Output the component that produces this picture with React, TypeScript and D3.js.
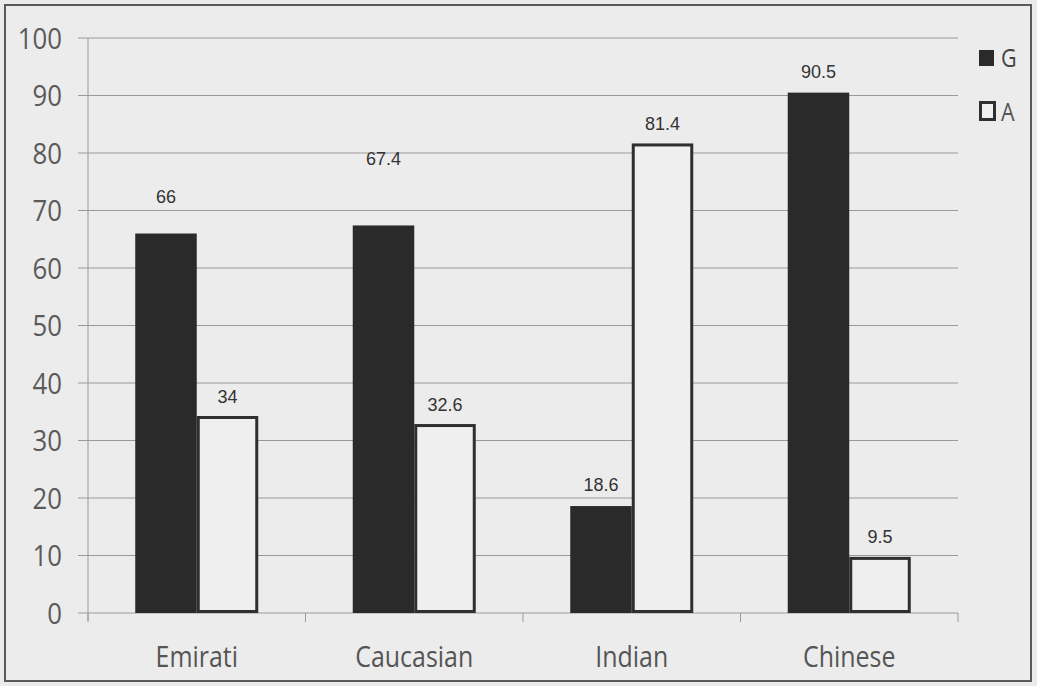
import React from "react";
import * as d3 from "d3";

const categories = ["Emirati", "Caucasian", "Indian", "Chinese"];
const seriesNames = ["G", "A"];
const gValues = [66, 67.4, 18.6, 90.5];
const aValues = [34, 32.6, 81.4, 9.5];
const yTicks = [0, 10, 20, 30, 40, 50, 60, 70, 80, 90, 100];
// extra vertical lift (px) of each data label, [G, A] per category, as drawn in the original
const gLabelLift = [16, 45, 0, 0];
const aLabelLift = [0, 0, 0, 0];

const W = 1037;
const H = 686;
const left = 88;
const right = 958;
const top = 38;
const bottom = 613;

const tickFont = "'Open Sans', 'Noto Sans', sans-serif";
const labelFont = "'Liberation Sans', Arial, sans-serif";

function NarrowText(props: {
  x: number;
  y: number;
  size: number;
  anchor?: "start" | "middle" | "end";
  fill?: string;
  dy?: string;
  children: React.ReactNode;
}) {
  return (
    <text
      transform={`translate(${props.x},${props.y}) scale(0.86,1)`}
      textAnchor={props.anchor || "start"}
      dy={props.dy}
      fontFamily={tickFont}
      fontSize={props.size}
      fill={props.fill || "#555"}
    >
      {props.children}
    </text>
  );
}

export default function App() {
  const y = d3.scaleLinear().domain([0, 100]).range([bottom, top]);
  const x0 = d3.scaleBand<string>().domain(categories).range([left, right]).padding(0);
  const x1 = d3
    .scaleBand<string>()
    .domain(seriesNames)
    .range([0, x0.bandwidth()])
    .paddingInner(0)
    .paddingOuter(0.768);
  const values: Record<string, number[]> = { G: gValues, A: aValues };
  const lifts: Record<string, number[]> = { G: gLabelLift, A: aLabelLift };
  const boundaries = [...categories.map((c) => x0(c)!), right];

  return (
    <svg
      width={W}
      height={H}
      style={{ position: "absolute", left: 0, top: 0, background: "#ebebeb" }}
    >
      <rect x={0} y={0} width={W} height={H} fill="#ebebeb" />
      <rect x={5} y={5} width={1026} height={676} fill="#ececec" stroke="#5a5a5a" strokeWidth={2} />
      {/* gridlines */}
      {yTicks.map((t) => (
        <line key={"g" + t} x1={left - 10} x2={right} y1={y(t)} y2={y(t)} stroke="#9a9a9a" strokeWidth={1} />
      ))}
      {/* y axis */}
      <line x1={left} x2={left} y1={top} y2={bottom + 8} stroke="#9a9a9a" strokeWidth={1} />
      {/* x category ticks */}
      {boundaries.map((b, i) => (
        <line key={"xt" + i} x1={b} x2={b} y1={bottom} y2={bottom + 9} stroke="#9a9a9a" strokeWidth={1} />
      ))}
      {yTicks.map((t) => (
        <NarrowText key={"yl" + t} x={62} y={y(t)} dy="0.36em" anchor="end" size={30} fill="#5a5a5a">
          {t}
        </NarrowText>
      ))}
      {/* bars */}
      {categories.map((c, ci) =>
        seriesNames.map((s) => {
          const v = values[s][ci];
          const bx = x0(c)! + x1(s)!;
          const bw = x1.bandwidth();
          if (s === "G") {
            return (
              <rect key={c + s} x={bx} y={y(v)} width={bw} height={y(0) - y(v)} fill="#2a2a2a" />
            );
          }
          return (
            <rect
              key={c + s}
              x={bx + 1.5}
              y={y(v)}
              width={bw - 3}
              height={y(0) - y(v) - 1.5}
              fill="#efefef"
              stroke="#2f2f2f"
              strokeWidth={3}
            />
          );
        })
      )}
      {/* data labels */}
      {categories.map((c, ci) =>
        seriesNames.map((s) => {
          const v = values[s][ci];
          const cx = x0(c)! + x1(s)! + x1.bandwidth() / 2;
          return (
            <text
              key={"l" + c + s}
              x={cx}
              y={y(v) - 15 - lifts[s][ci]}
              textAnchor="middle"
              fontFamily={labelFont}
              fontSize={18}
              fill="#333"
            >
              {v}
            </text>
          );
        })
      )}
      {/* category labels */}
      {categories.map((c) => (
        <NarrowText key={"c" + c} x={x0(c)! + x0.bandwidth() / 2} y={667} anchor="middle" size={29}>
          {c}
        </NarrowText>
      ))}
      {/* legend */}
      <rect x={979} y={50} width={15} height={16} fill="#2a2a2a" />
      <NarrowText x={1001} y={67} size={25} fill="#444">
        {seriesNames[0]}
      </NarrowText>
      <rect x={980.5} y={102.5} width={14} height={17} fill="#efefef" stroke="#2f2f2f" strokeWidth={3} />
      <NarrowText x={1001} y={121} size={25} fill="#555">
        {seriesNames[1]}
      </NarrowText>
    </svg>
  );
}
